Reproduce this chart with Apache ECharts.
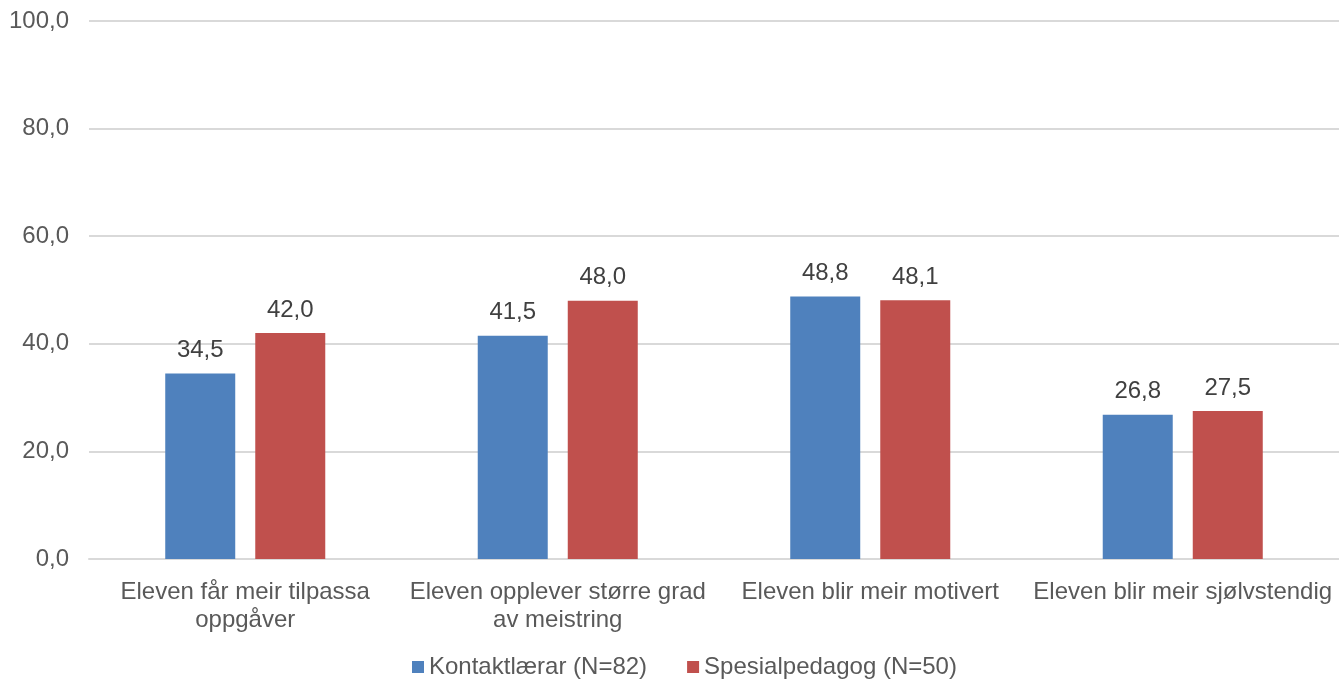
<!DOCTYPE html>
<html>
<head>
<meta charset="utf-8">
<script src="https://cdn.jsdelivr.net/npm/echarts@6/dist/echarts.min.js"></script>
<style>
  html, body { margin: 0; padding: 0; background: #ffffff; }
  #chart { width: 1339px; height: 680px; }
</style>
</head>
<body>
<div id="chart"></div>
<script>
const categories = [
  'Eleven får meir tilpassa\noppgåver',
  'Eleven opplever større grad\nav meistring',
  'Eleven blir meir motivert',
  'Eleven blir meir sjølvstendig'
];
const seriesNames = ['Kontaktlærar (N=82)', 'Spesialpedagog (N=50)'];
const kontaktlaerar = [34.5, 41.5, 48.8, 26.8];
const spesialpedagog = [42.0, 48.0, 48.1, 27.5];
const colors = ['#4f81bd', '#c0504d'];

const fmt = v => v.toFixed(1).replace('.', ',');
const font = 'Liberation Sans, Arial, sans-serif';

const chart = echarts.init(document.getElementById('chart'), null, { renderer: 'canvas' });
const labelStyle = {
  show: true,
  position: 'top',
  distance: 11,
  color: '#404040',
  fontFamily: font,
  fontSize: 24,
  formatter: p => fmt(p.value)
};
chart.setOption({
  animation: false,
  color: colors,
  textStyle: { fontFamily: font },
  grid: { left: 89, right: 0, top: 21, bottom: 121, containLabel: false },
  legend: {
    left: 412,
    top: 654,
    padding: 0,
    itemWidth: 12,
    itemHeight: 12,
    itemGap: 40,
    icon: 'rect',
    textStyle: { color: '#595959', fontSize: 24, lineHeight: 26, fontFamily: font },
    data: seriesNames
  },
  xAxis: {
    type: 'category',
    data: categories,
    axisLine: { lineStyle: { color: '#d9d9d9', width: 2 } },
    axisTick: { show: false },
    axisLabel: { color: '#595959', fontSize: 24, fontFamily: font, margin: 19, lineHeight: 28, interval: 0 }
  },
  yAxis: {
    type: 'value',
    min: 0,
    max: 100,
    interval: 20,
    axisLine: { show: false },
    axisTick: { show: false },
    splitLine: { lineStyle: { color: '#d9d9d9', width: 2 } },
    axisLabel: { color: '#595959', fontSize: 24, fontFamily: font, margin: 20, formatter: v => fmt(v) }
  },
  series: [
    {
      name: seriesNames[0],
      type: 'bar',
      data: kontaktlaerar,
      barWidth: 70,
      barGap: '28.6%',
      label: labelStyle
    },
    {
      name: seriesNames[1],
      type: 'bar',
      data: spesialpedagog,
      barWidth: 70,
      barGap: '28.6%',
      label: labelStyle
    }
  ]
});
</script>
</body>
</html>
